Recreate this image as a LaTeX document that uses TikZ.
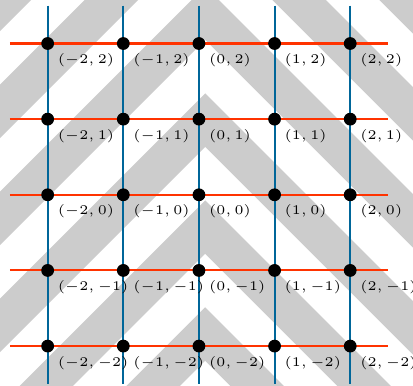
\documentclass[tikz,border=0pt]{standalone}
\usepackage{amsmath,amssymb}
\usetikzlibrary{positioning}
\definecolor{gridred}{RGB}{255,51,0}
\definecolor{gridblue}{RGB}{0,102,153}
\tikzset{
	dot/.style={circle,fill=black,draw=black,inner sep=0pt,minimum size=4.4pt},
	hline/.style={gridred,thick},
	vline/.style={gridblue,thick},
	chevron/.style={black!20,line width=0.5cm,line join=miter},
	lbl/.style={font=\fontsize{5.4pt}{6pt}\selectfont,label distance=-2pt}
}

\begin{document}
\begin{tikzpicture}[scale=1]
		\useasboundingbox (-2.63,-2.52) rectangle (2.83,2.575);
		\begin{scope}
			\clip (-2.63,-2.52) rectangle (2.83,2.575);
			\foreach \k in {-3,...,4}
				\draw[chevron] (-3.917,{0.988+1.4142*\k-4}) -- (0.083,{0.988+1.4142*\k}) -- (4.083,{0.988+1.4142*\k-4});
		\end{scope}
		\foreach \j in {-2,...,2} {
			\coordinate (l\j) at (-2.5,\j);
			\coordinate (r\j) at (2.5,\j);
			\draw[hline] (l\j) -- (r\j);
		}
		\foreach \i in {-2,...,2} {
			\coordinate (t\i) at (\i,2.5);
			\coordinate (b\i) at (\i,-2.5);
			\draw[vline] (t\i) -- (b\i);
		}
		\foreach \i in {-2,...,2}
			\foreach \j in {-2,...,2}
				\node[dot,label={[lbl]below right:$(\i,\j)$}] (v\i\j) at (\i,\j) {};
	\end{tikzpicture}
\end{document}
